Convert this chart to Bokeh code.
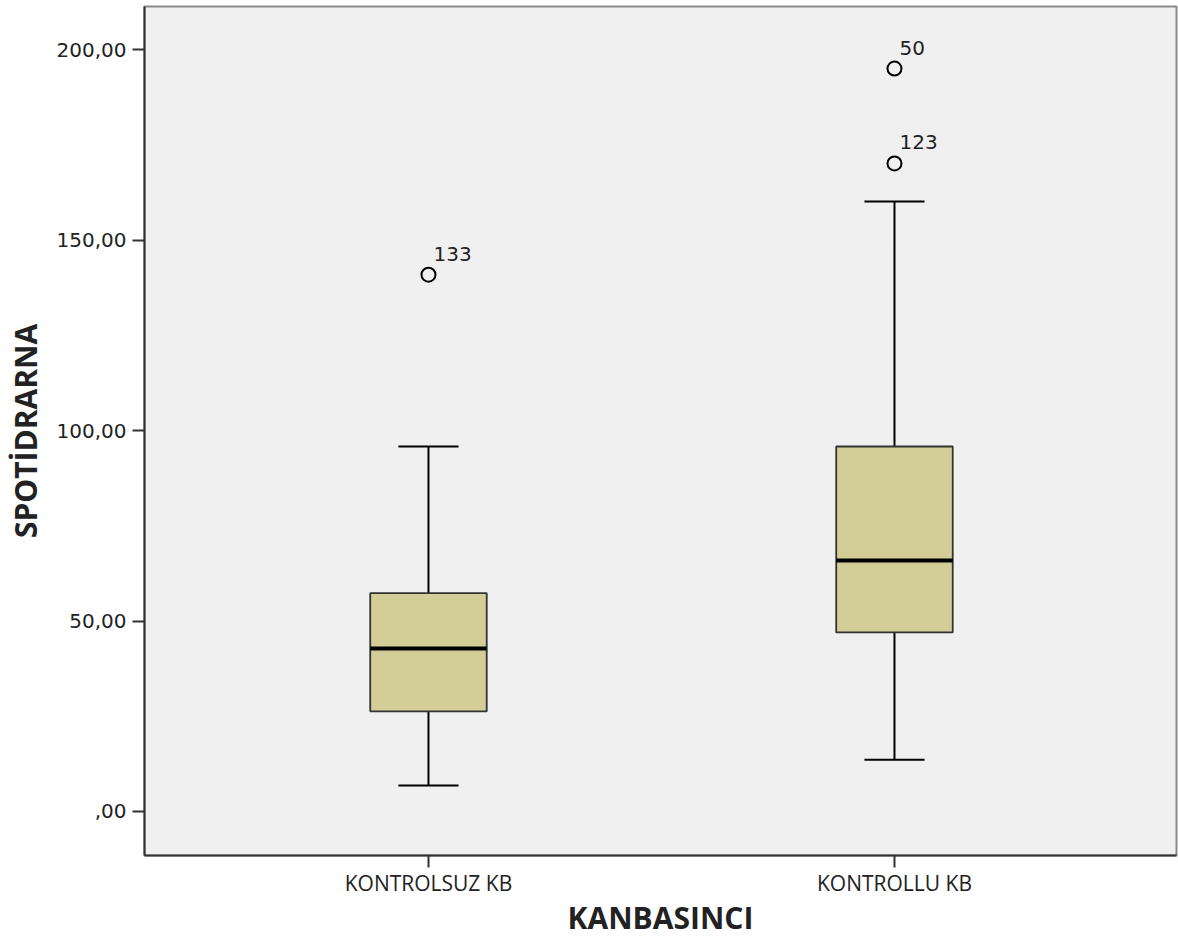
from bokeh.plotting import figure
from bokeh.models import FixedTicker, Range1d, ColumnDataSource
from bokeh.core.properties import value
from bokeh.embed import file_html
from bokeh.resources import INLINE

categories = ["KONTROLSUZ KB", "KONTROLLU KB"]
positions = [1, 2]
whisker_low = [6.8, 13.6]
q1 = [26.3, 47.0]
median = [42.8, 65.9]
q3 = [57.3, 95.8]
whisker_high = [95.8, 160.1]
outlier_x = [1, 2, 2]
outlier_y = [140.9, 195.0, 170.1]
outlier_labels = ["133", "50", "123"]
y_ticks = [0, 50, 100, 150, 200]
y_tick_labels = [",00", "50,00", "100,00", "150,00", "200,00"]

BOX_W = 0.25
CAP_W = 0.129

p = figure(width=1178, height=941, output_backend="svg", toolbar_location=None,
           x_range=Range1d(0.3906, 2.6052), y_range=Range1d(-11.55, 211.29),
           min_border_left=144, min_border_right=2, min_border_top=6, min_border_bottom=86)
p.background_fill_color = "#f0f0f0"
p.border_fill_color = "white"
p.grid.visible = False
p.outline_line_color = "#8a8a8a"
p.outline_line_width = 2

src = ColumnDataSource(dict(x=positions, lo=whisker_low, q1=q1, med=median, q3=q3, hi=whisker_high,
                            cl=[v - CAP_W / 2 for v in positions], cr=[v + CAP_W / 2 for v in positions],
                            bl=[v - BOX_W / 2 for v in positions], br=[v + BOX_W / 2 for v in positions]))

# whiskers
p.segment(x0="x", y0="q3", x1="x", y1="hi", source=src, line_color="black", line_width=2)
p.segment(x0="x", y0="lo", x1="x", y1="q1", source=src, line_color="black", line_width=2)
p.segment(x0="cl", y0="hi", x1="cr", y1="hi", source=src, line_color="black", line_width=2)
p.segment(x0="cl", y0="lo", x1="cr", y1="lo", source=src, line_color="black", line_width=2)
# boxes
p.vbar(x="x", width=BOX_W, bottom="q1", top="q3", source=src, fill_color="#d3ce97",
       line_color="#333333", line_width=1.8)
p.segment(x0="bl", y0="med", x1="br", y1="med", source=src, line_color="black", line_width=4)

osrc = ColumnDataSource(dict(x=outlier_x, y=outlier_y, t=outlier_labels))
p.scatter(x="x", y="y", source=osrc, marker="circle", size=14, fill_color=None,
          line_color="black", line_width=2)
p.text(x="x", y="y", text="t", source=osrc, x_offset=5, y_offset=-21,
       text_font=value("DejaVu Sans"), text_font_size="20px", text_color="#222222",
       text_baseline="alphabetic", text_align="left")

p.yaxis.ticker = FixedTicker(ticks=y_ticks)
p.yaxis.major_label_overrides = {t: l for t, l in zip(y_ticks, y_tick_labels)}
p.xaxis.ticker = FixedTicker(ticks=positions)
p.xaxis.major_label_overrides = {t: l for t, l in zip(positions, categories)}

for ax in (p.xaxis, p.yaxis):
    ax.axis_line_color = "#333333"
    ax.axis_line_width = 2
    ax.major_tick_line_color = "#333333"
    ax.major_tick_line_width = 2
    ax.major_tick_out = 12
    ax.major_tick_in = 0
    ax.minor_tick_out = 0
    ax.minor_tick_in = 0
    ax.major_label_text_color = "#222222"
    ax.axis_label_text_color = "#222222"
    ax.axis_label_text_font_style = "bold"
    ax.axis_label_text_font = "Open Sans"
    ax.axis_label_text_font_size = "30px"

p.yaxis.major_label_text_font = "DejaVu Sans"
p.yaxis.major_label_text_font_size = "20px"
p.yaxis.major_label_standoff = 6
p.xaxis.major_label_text_font = "Open Sans"
p.xaxis.major_label_text_font_size = "21px"
p.xaxis.major_label_standoff = 1

p.xaxis.axis_label = "KANBASINCI"
p.yaxis.axis_label = "SPOTİDRARNA"
p.xaxis.axis_label_standoff = -3
p.yaxis.axis_label_standoff = 8

open("out.html", "w").write(file_html(p, INLINE))
